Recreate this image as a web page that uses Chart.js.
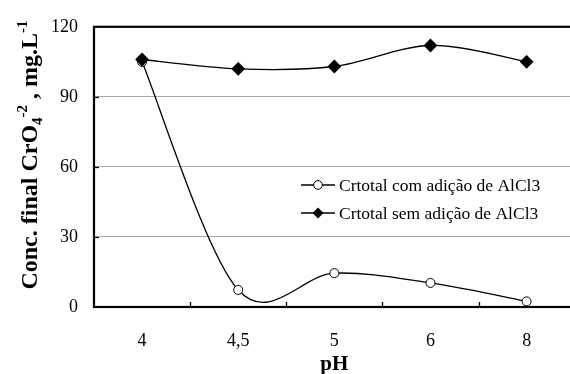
<!DOCTYPE html>
<html>
<head>
<meta charset="utf-8">
<script src="https://cdn.jsdelivr.net/npm/chart.js@4.4.1/dist/chart.umd.min.js"></script>
<style>
  body { margin: 0; overflow: hidden; background: #fff; }
  .wrap { position: relative; width: 582px; height: 374px; }
</style>
</head>
<body>
<div class="wrap"><canvas id="phChart"></canvas></div>
<script>
const phLabels = ['4', '4,5', '5', '6', '8']
const comAlcl3 = [105, 7.3, 14.5, 10.3, 2.4]
const semAlcl3 = [106, 102, 103, 112, 105]
const yTicks = [0, 30, 60, 90, 120]
const seriesNames = ['Crtotal com adição de AlCl3', 'Crtotal sem adição de AlCl3']

const serif = "'Liberation Serif', 'Times New Roman', serif"

// excel-like smoothing: control points from neighbours (catmull-rom style)
const smooth = {
  id: 'smooth',
  beforeDatasetDraw(chart, args) {
    const meta = args.meta
    meta.dataset.updateControlPoints(chart.chartArea, meta.iScale.axis)
    const pts = meta.data
    const k = 1 / 6
    pts.forEach((p, i) => {
      const prev = pts[i - 1] || p
      const next = pts[i + 1] || p
      const dx = (next.x - prev.x) * k
      const dy = (next.y - prev.y) * k
      p.cp1x = p.x - dx; p.cp1y = p.y - dy
      p.cp2x = p.x + dx; p.cp2y = p.y + dy
    })
  }
}

// frame, inward ticks, axis titles and legend
const decor = {
  id: 'decor',
  afterDraw(chart) {
    const ctx = chart.ctx
    const a = chart.chartArea
    const x = chart.scales.x
    const y = chart.scales.y
    ctx.save()
    ctx.strokeStyle = '#000'
    ctx.lineWidth = 1.3
    yTicks.slice(1, -1).forEach(v => {
      const py = Math.round(y.getPixelForValue(v)) + 0.5
      ctx.beginPath(); ctx.moveTo(a.left, py); ctx.lineTo(a.left + 5, py); ctx.stroke()
    })
    const step = x.getPixelForValue(1) - x.getPixelForValue(0)
    for (let i = 1; i < phLabels.length; i++) {
      const px = Math.round(x.getPixelForValue(i) - step / 2) + 0.5
      ctx.beginPath(); ctx.moveTo(px, a.bottom); ctx.lineTo(px, a.bottom - 5); ctx.stroke()
    }
    ctx.lineWidth = 2.2
    ctx.strokeRect(a.left, a.top, a.right - a.left, a.bottom - a.top)

    // x title
    ctx.fillStyle = '#000'
    ctx.font = 'bold 21px ' + serif
    ctx.textAlign = 'center'
    ctx.textBaseline = 'middle'
    ctx.fillText('pH', (a.left + a.right) / 2, 365)

    // y title with sub/superscripts
    const parts = [
      { t: 'Conc. final CrO', s: 24, dy: 0 },
      { t: '4', s: 15, dy: 5 },
      { t: '-2', s: 15, dy: -10 },
      { t: ' , mg.L', s: 24, dy: 0 },
      { t: '-1', s: 15, dy: -10 }
    ]
    let total = 0
    parts.forEach(p => { ctx.font = 'bold ' + p.s + 'px ' + serif; p.w = ctx.measureText(p.t).width; total += p.w })
    ctx.translate(37, 155)
    ctx.rotate(-Math.PI / 2)
    ctx.textAlign = 'left'
    ctx.textBaseline = 'alphabetic'
    let cx = -total / 2
    parts.forEach(p => {
      ctx.font = 'bold ' + p.s + 'px ' + serif
      ctx.fillText(p.t, cx, p.dy)
      cx += p.w
    })
    ctx.setTransform(1, 0, 0, 1, 0, 0)

    // legend
    const rows = [185, 213]
    chart.data.datasets.forEach((ds, i) => {
      const ly = rows[i]
      ctx.strokeStyle = '#000'
      ctx.lineWidth = 1.3
      ctx.beginPath(); ctx.moveTo(301, ly); ctx.lineTo(335, ly); ctx.stroke()
      ctx.beginPath()
      if (ds.pointStyle === 'circle') {
        ctx.arc(318, ly, 4.3, 0, Math.PI * 2)
        ctx.fillStyle = '#fff'; ctx.fill(); ctx.lineWidth = 1; ctx.stroke()
      } else {
        ctx.moveTo(318, ly - 5.5); ctx.lineTo(323.5, ly); ctx.lineTo(318, ly + 5.5); ctx.lineTo(312.5, ly); ctx.closePath()
        ctx.fillStyle = '#000'; ctx.fill()
      }
      ctx.fillStyle = '#000'
      ctx.font = '17.5px ' + serif
      ctx.textAlign = 'left'
      ctx.textBaseline = 'middle'
      ctx.fillText(ds.label, 339, ly + 1)
    })
    ctx.restore()
  }
}

const phChart = new Chart(document.getElementById('phChart'), {
  type: 'line',
  data: {
    labels: phLabels,
    datasets: [{
      label: seriesNames[0],
      data: comAlcl3,
      borderColor: '#000',
      borderWidth: 1.3,
      pointStyle: 'circle',
      pointRadius: 4.5,
      pointBorderWidth: 1,
      pointBackgroundColor: '#fff',
      pointBorderColor: '#000',
      tension: 0.4,
      order: 1
    }, {
      label: seriesNames[1],
      data: semAlcl3,
      borderColor: '#000',
      borderWidth: 1.3,
      pointStyle: 'rectRot',
      pointRadius: 6,
      pointBackgroundColor: '#000',
      pointBorderColor: '#000',
      tension: 0.4,
      order: 0
    }]
  },
  options: {
    responsive: true,
    maintainAspectRatio: false,
    animation: false,
    layout: { padding: { top: 19, right: 3, left: 0, bottom: 0 } },
    elements: { line: { capBezierPoints: false } },
    plugins: { legend: { display: false }, tooltip: { enabled: false } },
    scales: {
      x: {
        offset: true,
        grid: { display: false },
        border: { display: false },
        ticks: { color: '#000', font: { family: serif, size: 18 }, padding: 15, maxRotation: 0 },
        afterFit: s => { s.height = 67 }
      },
      y: {
        min: 0,
        max: 120,
        afterBuildTicks: s => { s.ticks = yTicks.map(v => ({ value: v })) },
        grid: { color: '#a8a8a8', lineWidth: 1, drawTicks: false },
        border: { display: false },
        ticks: { color: '#000', font: { family: serif, size: 18 }, padding: 16 },
        afterFit: s => { s.width = 94 }
      }
    }
  },
  plugins: [smooth, decor]
})
</script>
</body>
</html>
